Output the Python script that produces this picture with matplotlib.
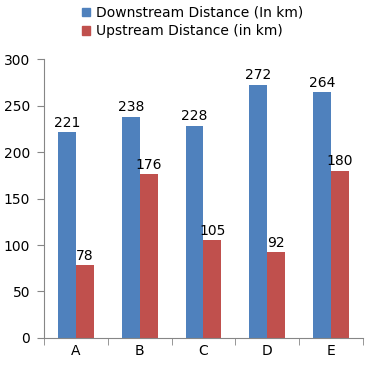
import matplotlib
matplotlib.use("Agg")
import matplotlib.pyplot as plt
import numpy as np
from matplotlib.patches import Patch

categories = ["A", "B", "C", "D", "E"]
downstream = [221, 238, 228, 272, 264]
upstream = [78, 176, 105, 92, 180]
series_names = ["Downstream Distance (In km)", "Upstream Distance (in km)"]
yticks = [0, 50, 100, 150, 200, 250, 300]

blue = "#4F81BD"
red = "#C0504D"
gray = "#868686"

plt.rcParams['font.family'] = ['DejaVu Sans']
fig = plt.figure(figsize=(3.68, 3.70), dpi=100)
ax = fig.add_axes([0.1196, 0.0865, 0.8664, 0.754])

x = np.arange(len(categories))
w = 0.28
b1 = ax.bar(x - w/2, downstream, w, color=blue)
b2 = ax.bar(x + w/2, upstream, w, color=red)
for bars, vals in ((b1, downstream), (b2, upstream)):
    for r, v in zip(bars, vals):
        ax.annotate(str(v), (r.get_x() + r.get_width()/2, v), xytext=(0, 2),
                    textcoords="offset points", ha="center", va="bottom", fontsize=10)

ax.set_xlim(-0.5, len(categories) - 0.5)
ax.set_ylim(0, 300)
ax.set_yticks(yticks)
ax.set_xticks(x)
ax.set_xticklabels(categories, fontsize=10)
ax.set_xticks(np.arange(len(categories) + 1) - 0.5, minor=True)
ax.tick_params(axis="x", which="major", length=0, pad=4)
ax.tick_params(axis="x", which="minor", length=5, color=gray, direction="out")
ax.tick_params(axis="y", length=5, color=gray, labelsize=10, pad=5)
for s in ("top", "right"):
    ax.spines[s].set_visible(False)
for s in ("left", "bottom"):
    ax.spines[s].set_color(gray)

handles = [Patch(color=blue), Patch(color=red)]
fig.legend(handles, series_names, loc="upper left", bbox_to_anchor=(0.189, 1.018),
           frameon=False, fontsize=10, handlelength=0.6, handleheight=0.6,
           handletextpad=0.4, labelspacing=0.3)

fig.savefig("out.png", dpi=100)
